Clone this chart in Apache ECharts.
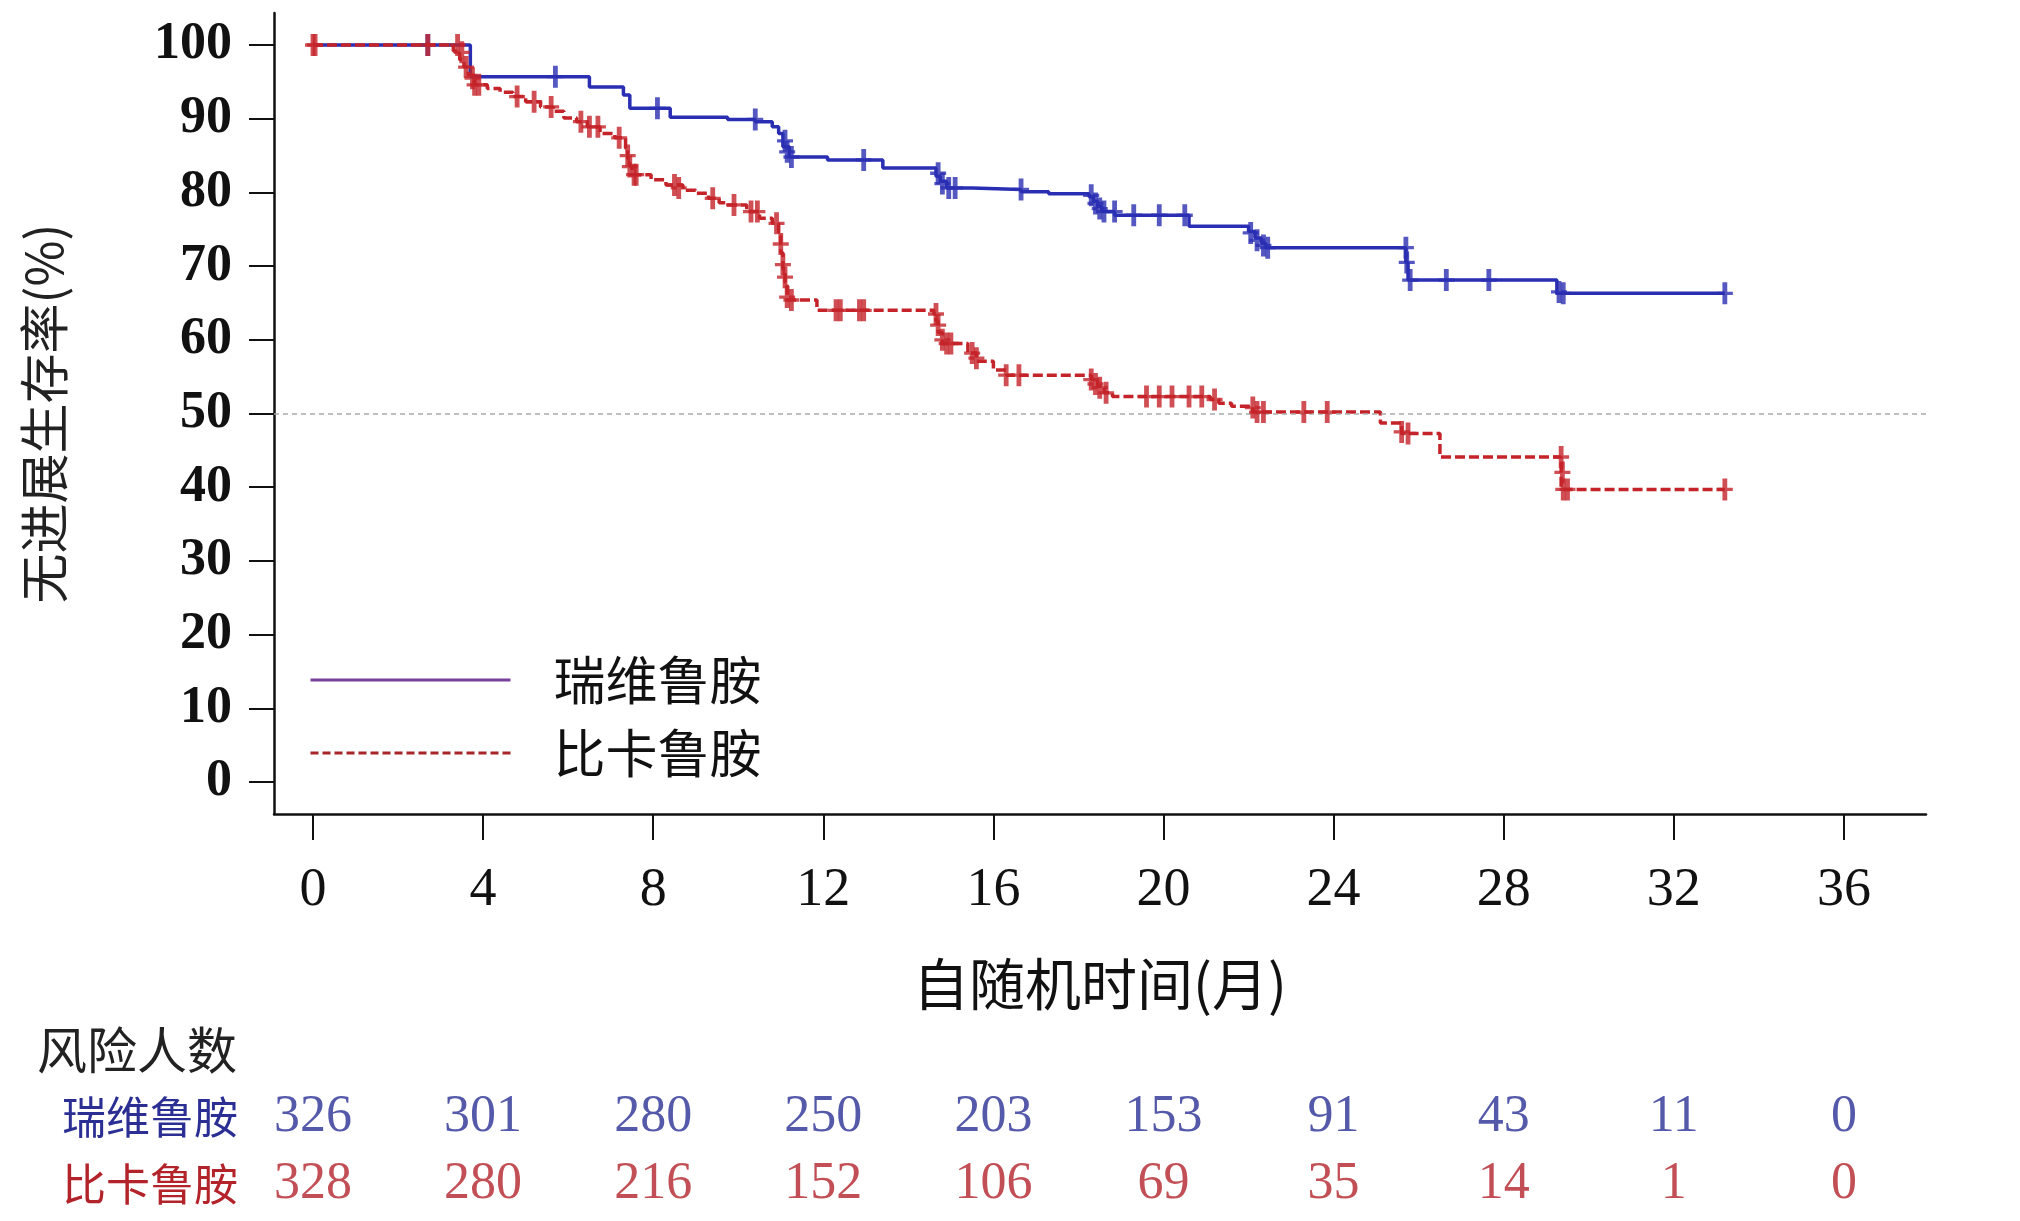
<!DOCTYPE html>
<html>
<head>
<meta charset="utf-8">
<script src="https://cdn.jsdelivr.net/npm/echarts@6/dist/echarts.min.js"></script>
<style>
  html, body { margin: 0; padding: 0; background: #fff; }
  #main { width: 2020px; height: 1221px; }
</style>
</head>
<body>
<div id="main"></div>
<script>
// KM 曲线 [月, 无进展生存率%]，事件后数值
const rvlCurve = [[0,100],[3.7,95.7],[6.5,94.3],[7.3,93.2],[7.45,91.4],[8.4,90.2],[9.75,89.9],[10.4,89.6],
  [10.8,88.9],[10.95,88.0],[11.05,86.2],[11.2,84.8],[12.1,84.4],[13.4,83.3],[14.65,82.2],[14.75,81.5],
  [14.9,80.6],[15.5,80.4],[16.65,80.1],[17.3,79.8],[18.25,79.4],[18.35,78.8],[18.45,78.1],[18.55,77.4],
  [18.85,76.9],[20.6,75.4],[22.0,74.7],[22.15,73.8],[22.3,73.1],[22.4,72.5],[25.7,70.5],[25.75,68.1],
  [29.25,66.3],[33.2,66.3]];
const bicCurve = [[0,100],[3.3,99.2],[3.45,98],[3.55,97],[3.65,95.9],[3.8,94.6],[4.1,94.1],[4.4,93.6],
  [4.7,93.0],[5.0,92.3],[5.35,91.6],[5.65,91.0],[5.9,90.1],[6.2,89.6],[6.45,88.9],[6.75,88.0],[7.1,87.4],
  [7.35,86.0],[7.4,84.6],[7.45,83.5],[7.5,82.4],[7.95,81.7],[8.3,81.0],[8.7,80.3],[9.0,79.9],[9.3,79.2],
  [9.55,78.6],[9.7,78.3],[10.2,77.4],[10.5,76.5],[10.8,75.8],[10.95,74.1],[11.0,71.8],[11.05,69.6],
  [11.1,67.8],[11.15,65.4],[11.85,64.0],[14.6,63.5],[14.65,62.6],[14.7,61.0],[14.8,59.5],[15.4,58.2],
  [15.6,57.1],[16.0,55.9],[16.3,55.2],[18.3,54.6],[18.45,53.7],[18.6,52.8],[18.8,52.3],[21.1,51.9],
  [21.3,51.4],[21.6,51.0],[22.1,50.2],[25.1,48.7],[25.6,47.3],[26.5,44.1],[29.35,39.7],[33.2,39.7]];

// 删失标记
const rvlCensor = [[2.7,100],[5.7,95.7],[8.1,91.4],[10.4,89.9],[11.1,87],[11.15,85.5],[11.25,84.8],
  [12.95,84.4],[14.7,82.6],[14.8,81.2],[14.95,80.6],[15.1,80.6],[16.65,80.4],[18.3,79.6],[18.4,78.5],
  [18.5,77.8],[18.6,77.4],[18.85,77.4],[19.3,76.9],[19.9,76.9],[20.5,76.9],[22.05,74.5],[22.2,73.5],
  [22.35,72.8],[22.45,72.5],[25.7,72.5],[25.72,70.5],[25.8,68.1],[26.65,68.1],[27.65,68.1],[29.3,66.5],
  [29.4,66.3],[33.2,66.3]];
const bicCensor = [[0,100],[0.05,100],[2.7,100],[3.4,100],[3.5,99],[3.6,97],[3.75,95.5],[3.8,94.6],
  [3.9,94.6],[4.8,93],[5.2,92.3],[5.6,91.6],[6.3,89.6],[6.5,88.9],[6.7,88.9],[7.2,87.4],[7.4,85],
  [7.45,83.5],[7.55,82.4],[7.6,82.4],[8.5,81],[8.6,80.6],[9.4,79.2],[9.9,78.3],[10.3,77.4],[10.45,77.4],
  [10.9,75.8],[11.0,73],[11.05,70.2],[11.1,68.5],[11.15,65.8],[11.25,65.4],[12.3,64],[12.4,64],[12.85,64],
  [12.95,64],[14.65,63.5],[14.7,62],[14.8,60],[14.9,59.5],[15.0,59.5],[15.5,58.2],[15.6,57.5],[16.3,55.2],
  [16.6,55.2],[18.3,54.6],[18.4,54],[18.5,53.5],[18.65,52.8],[19.6,52.3],[19.9,52.3],[20.2,52.3],
  [20.6,52.3],[20.9,52.3],[21.2,51.9],[22.1,50.8],[22.2,50.2],[22.35,50.2],[23.3,50.2],[23.85,50.2],
  [25.6,47.5],[25.75,47.3],[29.35,44.1],[29.38,42],[29.4,39.7],[29.5,39.7],[33.2,39.7]];

// 刻度与风险人数
const xTicks = [0, 4, 8, 12, 16, 20, 24, 28, 32, 36];
const yTicks = [0, 10, 20, 30, 40, 50, 60, 70, 80, 90, 100];
const groups = ['瑞维鲁胺', '比卡鲁胺'];
const riskRvl = [326, 301, 280, 250, 203, 153, 91, 43, 11, 0];
const riskBic = [328, 280, 216, 152, 106, 69, 35, 14, 1, 0];

const BLUE = '#2a2eb2';
const RED = '#c42329';
const BLUE_TXT = '#2b2f94';
const RED_TXT = '#b3232a';
const SERIF = '"Liberation Serif", "DejaVu Serif", serif';
const CJK = '"Noto Sans CJK SC", "Noto Sans", sans-serif';
// 删失 "+" 标记
const PLUS = 'path://M3.5,0H6.5V8.5H10V11.5H6.5V20H3.5V11.5H0V8.5H3.5Z';

const riskData = (counts, name) => xTicks.map((t, i) => [t, name, counts[i]]);

const myChart = echarts.init(document.getElementById('main'), null, { renderer: 'canvas' });

const option = {
  backgroundColor: '#fff',
  animation: false,
  title: {
    text: '风险人数',
    left: 32,
    top: 1020,
    textStyle: { fontFamily: CJK, fontSize: 50, fontWeight: 'normal', color: '#222' }
  },
  legend: {
    orient: 'vertical',
    left: 309,
    top: 652,
    padding: 0,
    itemWidth: 200,
    itemHeight: 20,
    itemGap: 17,
    selectedMode: false,
    textStyle: { fontFamily: CJK, fontSize: 52, color: '#111', lineHeight: 56, padding: [0, 0, 0, 38] },
    data: [
      { name: '瑞维鲁胺', itemStyle: { opacity: 0 }, lineStyle: { color: '#7b3f9e', width: 3, type: 'solid' } },
      { name: '比卡鲁胺', itemStyle: { opacity: 0 }, lineStyle: { color: '#a8252b', width: 3, type: [8, 4] } }
    ]
  },
  grid: [
    { left: 274, top: 13, width: 1652, height: 801 },
    { left: 274, top: 1084, width: 1652, height: 134 }
  ],
  xAxis: [{
    type: 'value',
    gridIndex: 0,
    min: -0.917,
    max: 37.93,
    splitLine: { show: false },
    axisLine: { onZero: false, lineStyle: { color: '#111', width: 2.5 } },
    axisTick: { customValues: xTicks, length: 26, lineStyle: { color: '#111', width: 2 } },
    axisLabel: { customValues: xTicks, margin: 50, fontFamily: SERIF, fontSize: 54, color: '#111' },
    name: '自随机时间(月)',
    nameLocation: 'middle',
    nameGap: 142,
    nameTextStyle: { fontFamily: CJK, fontSize: 56, color: '#111' }
  }, {
    type: 'value',
    gridIndex: 1,
    min: -0.917,
    max: 37.93,
    show: false
  }],
  yAxis: [{
    type: 'value',
    gridIndex: 0,
    min: -4.34,
    max: 104.34,
    splitLine: { show: false },
    axisLine: { show: true, onZero: false, lineStyle: { color: '#111', width: 2.5 } },
    axisTick: { show: true, customValues: yTicks, length: 25, lineStyle: { color: '#111', width: 2 } },
    axisLabel: { customValues: yTicks, margin: 42, fontFamily: SERIF, fontWeight: 'bold', fontSize: 52, color: '#111' },
    name: '无进展生存率(%)',
    nameLocation: 'middle',
    nameRotate: 90,
    nameGap: 205,
    nameTextStyle: { fontFamily: CJK, fontSize: 50, color: '#222' }
  }, {
    type: 'category',
    gridIndex: 1,
    data: ['比卡鲁胺', '瑞维鲁胺'],
    axisLine: { show: false },
    axisTick: { show: false },
    axisLabel: {
      margin: 36,
      fontFamily: CJK,
      fontSize: 44,
      color: (v) => (v === '瑞维鲁胺' ? BLUE_TXT : RED_TXT)
    }
  }],
  series: [
    {
      name: '瑞维鲁胺',
      type: 'line',
      step: 'end',
      symbol: 'none',
      data: rvlCurve,
      lineStyle: { color: BLUE, width: 3.5 },
      itemStyle: { color: BLUE },
      markLine: {
        silent: true,
        symbol: ['none', 'none'],
        label: { show: false },
        lineStyle: { color: '#aaa', type: [5, 4], width: 1.5 },
        data: [{ yAxis: 50 }]
      },
      z: 2
    },
    {
      name: '瑞维鲁胺删失',
      type: 'scatter',
      symbol: PLUS,
      symbolSize: [16, 22],
      data: rvlCensor,
      itemStyle: { color: BLUE },
      z: 3
    },
    {
      name: '比卡鲁胺',
      type: 'line',
      step: 'end',
      symbol: 'none',
      data: bicCurve,
      lineStyle: { color: RED, width: 3.5, type: [10, 4] },
      itemStyle: { color: RED },
      z: 4
    },
    {
      name: '比卡鲁胺删失',
      type: 'scatter',
      symbol: PLUS,
      symbolSize: [16, 22],
      data: bicCensor,
      itemStyle: { color: RED },
      z: 5
    },
    {
      name: '风险瑞维',
      type: 'scatter',
      xAxisIndex: 1,
      yAxisIndex: 1,
      symbolSize: 1,
      itemStyle: { color: 'transparent' },
      data: riskData(riskRvl, groups[0]),
      label: { show: true, position: 'inside', formatter: (p) => p.value[2], fontFamily: SERIF, fontSize: 52, color: BLUE_TXT }
    },
    {
      name: '风险比卡',
      type: 'scatter',
      xAxisIndex: 1,
      yAxisIndex: 1,
      symbolSize: 1,
      itemStyle: { color: 'transparent' },
      data: riskData(riskBic, groups[1]),
      label: { show: true, position: 'inside', formatter: (p) => p.value[2], fontFamily: SERIF, fontSize: 52, color: RED_TXT }
    }
  ]
};

myChart.setOption(option);
window.addEventListener('resize', () => { myChart.resize(); });
</script>
</body>
</html>
